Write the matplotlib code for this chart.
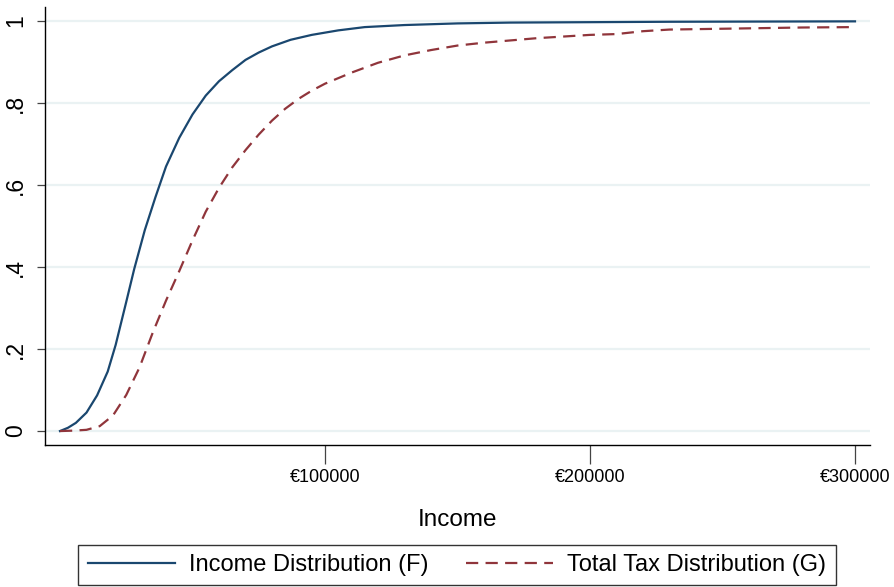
import matplotlib

matplotlib.use("Agg")
import matplotlib.pyplot as plt
from matplotlib.ticker import FixedLocator

plt.rcParams["font.family"] = ["Liberation Sans", "DejaVu Sans"]

# Income distribution F (cumulative share)
inc_x = [0, 3000, 6000, 10000, 14000, 18000, 21000, 25000, 28000, 32000,
         36000, 40000, 45000, 50000, 55000, 60000, 65000, 70000, 75000,
         80000, 87000, 95000, 105000, 115000, 130000, 150000, 170000,
         200000, 230000, 300000]
inc_f = [0.0, 0.008, 0.02, 0.045, 0.087, 0.145, 0.21, 0.315, 0.395, 0.49,
         0.57, 0.645, 0.715, 0.772, 0.818, 0.853, 0.88, 0.905, 0.923,
         0.938, 0.954, 0.966, 0.977, 0.985, 0.99, 0.994, 0.996,
         0.997, 0.998, 0.999]

# Total tax distribution G
tax_x = [0, 5000, 10000, 15000, 20000, 25000, 30000, 35000, 40000, 45000,
         50000, 55000, 60000, 65000, 70000, 75000, 80000, 85000, 90000,
         95000, 100000, 110000, 120000, 130000, 140000, 150000, 160000,
         180000, 200000, 210000, 220000, 230000, 250000, 280000, 300000]
tax_g = [0.0, 0.001, 0.003, 0.012, 0.038, 0.088, 0.155, 0.24, 0.318, 0.39,
         0.465, 0.535, 0.593, 0.643, 0.685, 0.723, 0.757, 0.786, 0.81,
         0.83, 0.847, 0.874, 0.898, 0.916, 0.929, 0.94, 0.947,
         0.958, 0.966, 0.968, 0.975, 0.979, 0.981, 0.984, 0.985]

x_ticks = [100000, 200000, 300000]
x_labels = ["€100000", "€200000", "€300000"]
y_ticks = [0, 0.2, 0.4, 0.6, 0.8, 1.0]
y_labels = ["0", ".2", ".4", ".6", ".8", "1"]

BLUE = "#1a476f"
RED = "#90353b"

fig = plt.figure(figsize=(8.94, 5.87), dpi=100)
ax = fig.add_axes([45 / 894, 1 - 445 / 587, 825 / 894, 438 / 587])

ax.plot(inc_x, inc_f, color=BLUE, lw=1.6, label="Income Distribution (F)", zorder=3)
ax.plot(tax_x, tax_g, color=RED, lw=1.6, dashes=(5.5, 3.3),
        label="Total Tax Distribution (G)", zorder=3)

ax.set_xlim(-5660, 305660)
ax.set_ylim(-0.034, 1.034)
ax.xaxis.set_major_locator(FixedLocator(x_ticks))
ax.set_xticklabels(x_labels, fontsize=13)
ax.yaxis.set_major_locator(FixedLocator(y_ticks))
ax.set_yticklabels(y_labels, fontsize=16.5, rotation=90, va="center")

ax.tick_params(axis="x", length=13.5, width=0.9, color="#444444", pad=4)
ax.tick_params(axis="y", length=6, width=0.9, color="#444444", pad=7)

ax.grid(axis="y", color="#eaf2f3", lw=1.6, zorder=0)
ax.set_axisbelow(True)
for s in ("top", "right"):
    ax.spines[s].set_visible(False)
for s in ("left", "bottom"):
    ax.spines[s].set_linewidth(1.0)
    ax.spines[s].set_color("black")

ax.set_xlabel("Income", fontsize=17.5, labelpad=16)

leg = fig.legend(loc="center", bbox_to_anchor=(457 / 894, 22 / 587), ncol=2,
                 fontsize=17, handlelength=3.7, handletextpad=0.6,
                 columnspacing=1.55, borderpad=0.4, fancybox=False,
                 edgecolor="#333333", framealpha=1)
leg.get_frame().set_linewidth(1.0)

fig.savefig("out.png", dpi=100)
